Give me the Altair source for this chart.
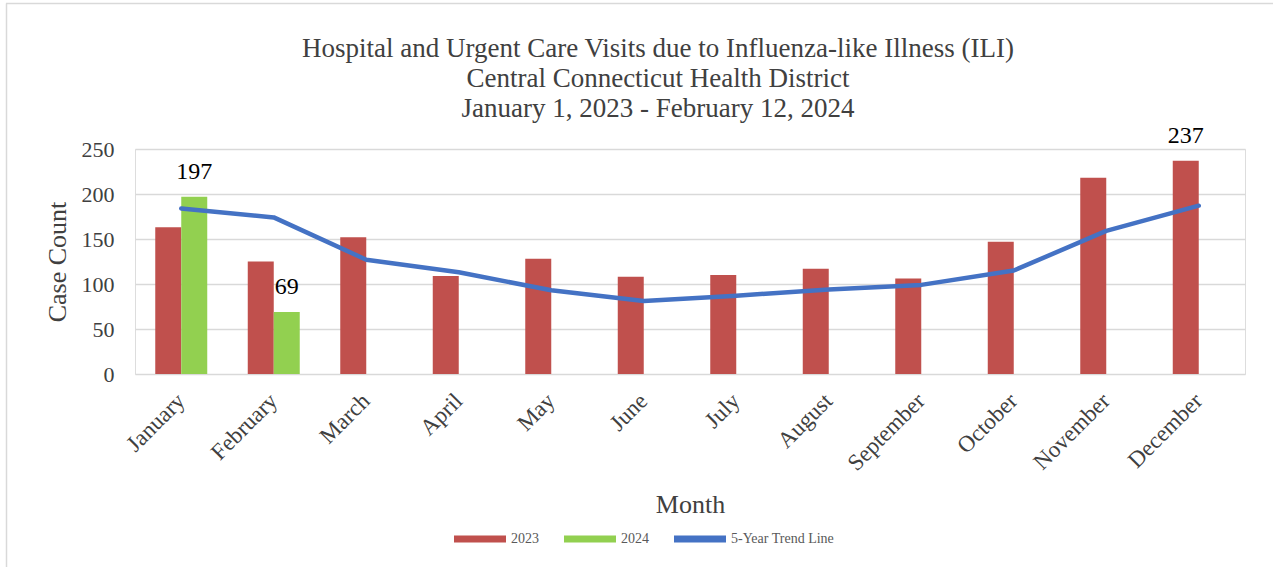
import altair as alt
import pandas as pd

# Monthly ILI visit counts
months = ["January", "February", "March", "April", "May", "June", "July",
          "August", "September", "October", "November", "December"]
cases_2023 = [163, 125, 152, 109, 128, 108, 110, 117, 106, 147, 218, 237]
months_2024 = ["January", "February"]
cases_2024 = [197, 69]
trend_5yr = [184, 174, 127, 113, 93, 81, 87, 94, 99, 115, 159, 187]

series_names = ["2023", "2024", "5-Year Trend Line"]
series_colors = ["#C0504D", "#92D050", "#4472C4"]

# bars that carry a value label
labelled = [("January", "2024"), ("February", "2024"), ("December", "2023")]

bars_df = pd.DataFrame(
    [{"month": m, "series": "2023", "value": v} for m, v in zip(months, cases_2023)]
    + [{"month": m, "series": "2024", "value": v} for m, v in zip(months_2024, cases_2024)]
)
trend_df = pd.DataFrame({"month": months, "value": trend_5yr, "series": "5-Year Trend Line"})
labels_df = bars_df[[(m, s) in labelled for m, s in zip(bars_df["month"], bars_df["series"])]]

FONT = "Liberation Serif"
TEXT = "#404040"

x_scale = alt.Scale(domain=months, paddingInner=0.438, paddingOuter=0.219)
y_scale = alt.Scale(domain=[0, 250])
color_scale = alt.Scale(domain=series_names, range=series_colors)
offset_scale = alt.Scale(domain=["2023", "2024"])

x_axis = alt.Axis(
    title="Month", labelAngle=-45, labelAlign="right", labelBaseline="middle",
    labelPadding=23, ticks=False, domain=False, grid=False,
    labelFont=FONT, labelFontSize=23, labelColor=TEXT,
    titleFont=FONT, titleFontSize=26, titleColor=TEXT, titleFontWeight="normal",
    titleY=138, titleBaseline="alphabetic",
)
y_axis = alt.Axis(
    title="Case Count", values=[0, 50, 100, 150, 200, 250], ticks=False, domain=False,
    grid=True, gridColor="#d9d9d9", gridWidth=1.5, labelPadding=21,
    labelFont=FONT, labelFontSize=22, labelColor=TEXT,
    titleFont=FONT, titleFontSize=26, titleColor=TEXT, titleFontWeight="normal",
    titleX=-78, titleBaseline="middle",
)

legend = alt.Legend(
    title=None, orient="none", direction="horizontal", legendX=319, legendY=364,
    symbolType="M-1,-0.13L1,-0.13L1,0.13L-1,0.13Z", symbolSize=2704,
    symbolStrokeWidth=0, labelFont=FONT, labelFontSize=14, labelColor="#595959",
    labelOffset=5, columnPadding=25, padding=0,
)

bars = alt.Chart(bars_df).mark_bar().encode(
    x=alt.X("month:N", scale=x_scale, axis=x_axis, sort=months),
    xOffset=alt.XOffset("series:N", scale=offset_scale),
    y=alt.Y("value:Q", scale=y_scale, axis=y_axis),
    color=alt.Color("series:N", scale=color_scale, legend=legend),
)

trend = alt.Chart(trend_df).mark_line(strokeWidth=4.5, strokeCap="round", strokeJoin="round").encode(
    x=alt.X("month:N", scale=x_scale, sort=months),
    y=alt.Y("value:Q", scale=y_scale),
    color=alt.Color("series:N", scale=color_scale, legend=legend),
)

value_labels = alt.Chart(labels_df).mark_text(
    font=FONT, fontSize=24, color="#000000", baseline="alphabetic", dy=-18
).encode(
    x=alt.X("month:N", scale=x_scale, sort=months),
    xOffset=alt.XOffset("series:N", scale=offset_scale),
    y=alt.Y("value:Q", scale=y_scale),
    text="value:Q",
)

# light frame along the top and left edges of the canvas
frame_df = pd.DataFrame({"k": [0]})
frame_top = alt.Chart(frame_df).mark_rule(color="#d9d9d9", strokeWidth=1.5).encode(
    x=alt.value(-129), x2=alt.value(1140), y=alt.value(-145.5)
)
frame_left = alt.Chart(frame_df).mark_rule(color="#d9d9d9", strokeWidth=1.5).encode(
    x=alt.value(-128.5), y=alt.value(-145.5), y2=alt.value(420)
)

# the frame sits above the plot, so the title offset is measured from its top edge
chart = alt.layer(bars, trend, value_labels, frame_top, frame_left).properties(
    width=1110,
    height=225,
    autosize=alt.AutoSizeParams(type="none"),
    padding={"left": 135, "top": 149, "right": 28, "bottom": 193},
    title=alt.TitleParams(
        text=["Hospital and Urgent Care Visits due to Influenza-like Illness (ILI)",
              "Central Connecticut Health District",
              "January 1, 2023 - February 12, 2024"],
        font=FONT, fontSize=27, fontWeight="normal", color=TEXT,
        lineHeight=30, anchor="middle", frame="group", baseline="bottom",
        offset=-147, dx=-32,
    ),
).configure_view(stroke=None).configure(background="white")

chart.save("out.html", embed_options={"renderer": "svg", "actions": False})
